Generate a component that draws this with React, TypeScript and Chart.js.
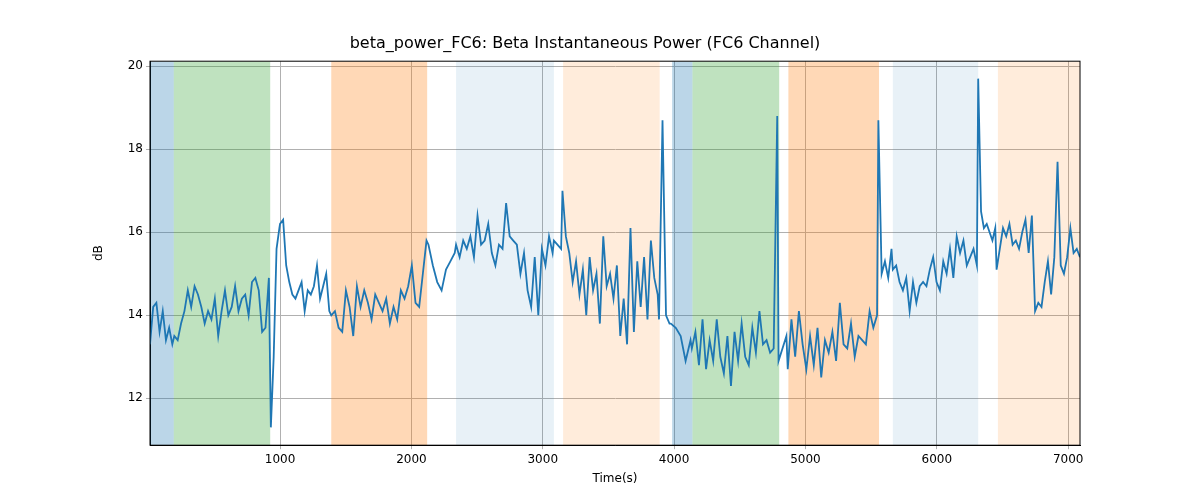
import React, { useEffect, useRef } from "react";
import { Chart, registerables } from "chart.js";
Chart.register(...registerables);

// segments of the signal: [startTime, endTime, values]
const seg1 = [13.3, 14.2, 14.3, 13.6, 14.1, 13.4, 13.7, 13.3];
const seg2 = [13.5, 13.4, 13.8, 14.1, 14.6, 14.2, 14.7, 14.5, 14.2, 13.8, 14.1, 13.9, 14.4, 13.5, 14.1, 14.6, 14.0, 14.2, 14.7, 14.1, 14.4, 14.5, 14.0, 14.8, 14.9, 14.6, 13.6, 13.7, 14.9];
const seg3 = [11.3, 13.0, 15.6, 16.1];
const seg4 = [16.2, 16.3, 15.2, 14.8, 14.5, 14.4, 14.6, 14.8, 14.1, 14.6, 14.5, 14.7, 15.2, 14.4, 14.7, 15.0, 14.1];
const seg5 = [14.0, 14.1, 13.7, 13.6, 14.6, 14.2, 13.5, 14.7, 14.2, 14.6, 14.3, 13.9, 14.5, 14.3, 14.1, 14.4, 13.8, 14.2, 13.9, 14.6, 14.4, 14.7, 15.2, 14.3, 14.2, 15.0, 15.8];
const seg6 = [15.7, 15.2, 14.8, 14.6, 15.1, 15.3, 15.5];
const seg7 = [15.7, 15.4, 15.8, 15.6, 15.9, 15.4, 16.4, 15.7, 15.8, 16.2, 15.5, 15.2, 15.7, 15.6, 16.7, 15.9, 15.8, 15.7, 15.0, 15.5, 14.6, 14.2, 15.4, 14.0, 15.6, 15.2, 15.9, 15.5];
const seg8 = [15.8, 15.6];
const seg9 = [17.0, 15.9, 15.5, 14.8, 15.3, 14.5, 15.1, 14.0, 15.4, 14.6, 15.0, 13.8, 15.9, 14.7, 15.0, 14.4, 15.2, 13.5, 14.4, 13.3, 16.1, 13.6, 15.3, 14.2, 15.4, 13.9, 15.8, 14.9, 14.5];
const seg10 = [13.9, 18.7, 14.0, 13.8];
const seg11 = [13.8, 13.7, 13.5, 12.9, 13.4];
const seg12 = [13.2, 13.6, 12.8, 13.9, 12.7, 13.4, 12.9, 13.9, 13.0, 12.6, 13.5, 12.3, 13.6, 12.9, 13.8, 13.0, 12.8, 13.7, 13.1, 14.1, 13.3, 13.4, 13.1, 13.2, 18.8];
const seg13 = [12.9, 13.5];
const seg14 = [12.7, 13.9, 13.0, 14.1, 13.3, 12.7, 13.5, 12.8, 13.7, 12.5, 13.4, 13.1, 13.6, 12.9, 14.3, 13.3, 13.2, 13.8, 13.0, 13.5, 13.4, 13.3, 14.1, 13.7, 14.0];
const seg15 = [18.7, 15.0, 15.3, 14.9, 15.6];
const seg16 = [15.1, 15.2, 14.8, 14.6, 14.9, 14.1, 14.8, 14.3, 14.7, 14.8, 14.7, 15.1, 15.4, 14.8, 14.6, 15.3, 15.0, 15.6, 14.9, 15.9, 15.5, 15.8, 15.2, 15.4, 15.6, 15.2];
const seg17 = [19.7, 16.5, 16.1, 16.2, 16.0, 15.8, 16.1];
const seg18 = [15.1, 15.6, 16.1, 15.9, 16.2, 15.7, 15.8, 15.6, 16.0, 16.3, 15.5, 16.4, 14.1, 14.3, 14.2, 14.8, 15.3, 14.5, 15.4, 17.7, 15.2, 15.0, 15.4, 16.1, 15.5, 15.6, 15.4];

const segStarts = [10, 195, 930, 1000, 1390, 2130, 2340, 3085, 3150, 3885, 3975, 4135, 4795, 4865, 5555, 5665, 6315, 6455];
const segEnds = [180, 915, 995, 1375, 2115, 2330, 3075, 3140, 3875, 3965, 4125, 4785, 4855, 5545, 5655, 6305, 6445, 7090];
const segValues = [seg1, seg2, seg3, seg4, seg5, seg6, seg7, seg8, seg9, seg10, seg11, seg12, seg13, seg14, seg15, seg16, seg17, seg18];

// shaded spans
const spanStarts = [10, 191, 1390, 2340, 3155, 3985, 4140, 4870, 5665, 6465];
const spanEnds = [191, 925, 2120, 3085, 3890, 4140, 4800, 5560, 6315, 7090];
const spanColors = [
  "rgba(31,119,180,0.3)", "rgba(44,160,44,0.3)", "rgba(255,127,14,0.3)", "rgba(31,119,180,0.1)", "rgba(255,127,14,0.15)",
  "rgba(31,119,180,0.3)", "rgba(44,160,44,0.3)", "rgba(255,127,14,0.3)", "rgba(31,119,180,0.1)", "rgba(255,127,14,0.15)",
];

const xTicks = [1000, 2000, 3000, 4000, 5000, 6000, 7000];
const yTicks = [12, 14, 16, 18, 20];

export default function App() {
  const ref = useRef<HTMLCanvasElement>(null);
  useEffect(() => {
    document.body.style.margin = "0";
    const pts: { x: number; y: number }[] = [];
    segValues.forEach((vals, i) => {
      const a = segStarts[i], b = segEnds[i];
      vals.forEach((v, j) => pts.push({ x: a + ((b - a) * j) / Math.max(1, vals.length - 1), y: v }));
    });
    const spans = {
      id: "spans",
      beforeDatasetsDraw(chart: any) {
        const { ctx, chartArea, scales } = chart;
        ctx.save();
        ctx.beginPath();
        ctx.rect(chartArea.left, chartArea.top, chartArea.width, chartArea.height);
        ctx.clip();
        spanStarts.forEach((s, i) => {
          const x0 = scales.x.getPixelForValue(s), x1 = scales.x.getPixelForValue(spanEnds[i]);
          ctx.fillStyle = spanColors[i];
          ctx.fillRect(x0, chartArea.top, x1 - x0, chartArea.height);
        });
        ctx.restore();
      },
      afterDraw(chart: any) {
        const { ctx, chartArea } = chart;
        ctx.save();
        ctx.strokeStyle = "#000";
        ctx.lineWidth = 1;
        ctx.strokeRect(chartArea.left, chartArea.top, chartArea.width, chartArea.height);
        ctx.restore();
      },
    };
    const font = { family: "DejaVu Sans", size: 12 };
    const chart = new Chart(ref.current!, {
      type: "line",
      data: { datasets: [{ data: pts, borderColor: "#1f77b4", borderWidth: 1.8, pointRadius: 0, tension: 0 }] },
      options: {
        animation: false,
        responsive: false,
        layout: { padding: { left: 90, right: 120, top: 34, bottom: 12 } },
        plugins: {
          legend: { display: false },
          tooltip: { enabled: false },
          title: { display: true, text: "beta_power_FC6: Beta Instantaneous Power (FC6 Channel)", color: "#000", font: { family: "DejaVu Sans", size: 16, weight: "normal" }, padding: { top: 0, bottom: 8 } },
        },
        scales: {
          x: {
            type: "linear", min: 10, max: 7090,
            afterBuildTicks: (ax: any) => { ax.ticks = xTicks.map((v) => ({ value: v })); },
            ticks: { color: "#000", font, maxRotation: 0, callback: (v: any) => String(v) },
            grid: { color: "#b0b0b0", drawTicks: true, tickLength: 4 },
            border: { color: "#000" },
            title: { display: true, text: "Time(s)", color: "#000", font, padding: 2 },
          },
          y: {
            min: 10.87, max: 20.12,
            afterBuildTicks: (ax: any) => { ax.ticks = yTicks.map((v) => ({ value: v })); },
            afterFit: (ax: any) => { ax.width = 60; },
            ticks: { color: "#000", font, callback: (v: any) => String(v) },
            grid: { color: "#b0b0b0", tickLength: 4 },
            border: { color: "#000" },
            title: { display: true, text: "dB", color: "#000", font, padding: 2 },
          },
        },
      },
      plugins: [spans],
    });
    return () => chart.destroy();
  }, []);
  return <canvas ref={ref} width={1200} height={500} />;
}
